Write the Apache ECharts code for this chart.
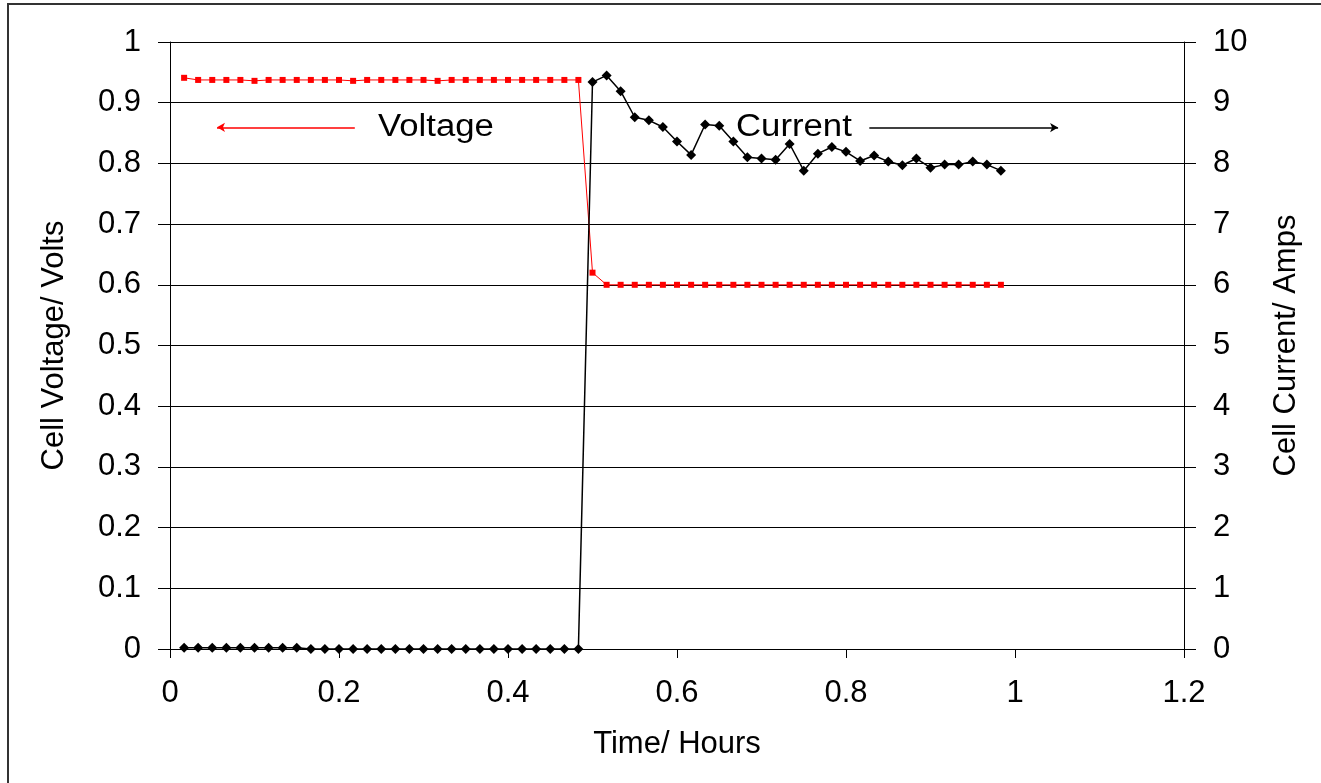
<!DOCTYPE html>
<html>
<head>
<meta charset="utf-8">
<script src="https://cdn.jsdelivr.net/npm/echarts@6/dist/echarts.min.js"></script>
<style>
html,body{margin:0;padding:0;background:#fff;}
#chart{width:1321px;height:783px;}
</style>
</head>
<body>
<div id="chart"></div>
<script>
// Time in hours (one reading per minute)
var timeHours = [
  0.0167, 0.0333, 0.0500, 0.0667, 0.0833, 0.1000, 0.1167, 0.1333, 0.1500, 0.1667,
  0.1833, 0.2000, 0.2167, 0.2333, 0.2500, 0.2667, 0.2833, 0.3000, 0.3167, 0.3333,
  0.3500, 0.3667, 0.3833, 0.4000, 0.4167, 0.4333, 0.4500, 0.4667, 0.4833, 0.5000,
  0.5167, 0.5333, 0.5500, 0.5667, 0.5833, 0.6000, 0.6167, 0.6333, 0.6500, 0.6667,
  0.6833, 0.7000, 0.7167, 0.7333, 0.7500, 0.7667, 0.7833, 0.8000, 0.8167, 0.8333,
  0.8500, 0.8667, 0.8833, 0.9000, 0.9167, 0.9333, 0.9500, 0.9667, 0.9833
];
// Cell voltage (V)
var voltage = [
  0.941, 0.9375, 0.9375, 0.9375, 0.9375, 0.936, 0.9375, 0.9375, 0.9375, 0.9375,
  0.9375, 0.9375, 0.936, 0.9375, 0.9375, 0.9375, 0.9375, 0.9375, 0.936, 0.9375,
  0.9375, 0.9375, 0.9375, 0.9375, 0.9375, 0.9375, 0.9375, 0.9375, 0.9375, 0.62,
  0.6, 0.6, 0.6, 0.6, 0.6, 0.6, 0.6, 0.6, 0.6, 0.6,
  0.6, 0.6, 0.6, 0.6, 0.6, 0.6, 0.6, 0.6, 0.6, 0.6,
  0.6, 0.6, 0.6, 0.6, 0.6, 0.6, 0.6, 0.6, 0.6
];
// Cell current (A)
var current = [
  0.02, 0.02, 0.02, 0.02, 0.02, 0.02, 0.02, 0.02, 0.02, 0,
  0, 0, 0, 0, 0, 0, 0, 0, 0, 0,
  0, 0, 0, 0, 0, 0, 0, 0, 0, 9.34,
  9.45, 9.19, 8.76, 8.71, 8.60, 8.36, 8.14, 8.64, 8.62, 8.36,
  8.10, 8.08, 8.06, 8.32, 7.88, 8.16, 8.27, 8.19, 8.04, 8.13,
  8.03, 7.97, 8.08, 7.93, 7.98, 7.98, 8.03, 7.98, 7.88
];
// Annotation arrows (data coordinates)
var voltageArrow = { x: [0.2187, 0.0556], y: 0.8594 };
var currentArrow = { x: [0.8276, 1.051], y: 8.59 };

var FONT = '"Liberation Sans", Arial, sans-serif';
var FS = 31;

function pairs(xs, ys) {
  var out = [];
  for (var i = 0; i < xs.length; i++) out.push([xs[i], ys[i]]);
  return out;
}

var chart = echarts.init(document.getElementById('chart'), null, {renderer: 'canvas'});

var axisText = {color: '#000', fontFamily: FONT, fontSize: FS};

chart.setOption({
  animation: false,
  backgroundColor: '#fff',
  grid: {left: 170, right: 137, top: 42, bottom: 134, containLabel: false},
  xAxis: {
    type: 'value', min: 0, max: 1.2, interval: 0.2,
    name: 'Time/ Hours', nameLocation: 'middle', nameGap: 80,
    nameTextStyle: axisText,
    axisLine: {show: true, onZero: false, lineStyle: {color: '#000', width: 1}},
    axisTick: {show: true, inside: false, length: 9, lineStyle: {color: '#000'}},
    axisLabel: {color: '#000', fontFamily: FONT, fontSize: FS, margin: 29},
    splitLine: {show: false}
  },
  yAxis: [
    {
      type: 'value', min: 0, max: 1, interval: 0.1, position: 'left',
      name: 'Cell Voltage/ Volts', nameLocation: 'middle', nameGap: 100, nameRotate: 90,
      nameTextStyle: axisText,
      axisLine: {show: true, lineStyle: {color: '#000', width: 1}},
      axisTick: {show: true, inside: false, length: 12, lineStyle: {color: '#000'}},
      axisLabel: {color: '#000', fontFamily: FONT, fontSize: FS, margin: 29},
      splitLine: {show: true, lineStyle: {color: '#000', width: 1}}
    },
    {
      type: 'value', min: 0, max: 10, interval: 1, position: 'right',
      name: 'Cell Current/ Amps', nameLocation: 'middle', nameGap: 87, nameRotate: 90,
      nameTextStyle: axisText,
      axisLine: {show: true, lineStyle: {color: '#000', width: 1}},
      axisTick: {show: true, inside: false, length: 12, lineStyle: {color: '#000'}},
      axisLabel: {color: '#000', fontFamily: FONT, fontSize: FS, margin: 29},
      splitLine: {show: false}
    }
  ],
  series: [
    {
      name: 'Voltage', type: 'line', yAxisIndex: 0,
      data: pairs(timeHours, voltage),
      symbol: 'rect', symbolSize: 6, showSymbol: true,
      lineStyle: {color: '#ff0000', width: 1},
      itemStyle: {color: '#ff0000'},
      z: 3,
      markLine: {
        silent: true, animation: false,
        symbol: ['none', 'arrow'], symbolSize: [7, 8],
        label: {show: false},
        lineStyle: {color: '#ff0000', width: 1.5, type: 'solid'},
        data: [[{coord: [voltageArrow.x[0], voltageArrow.y]}, {coord: [voltageArrow.x[1], voltageArrow.y]}]]
      }
    },
    {
      name: 'Current', type: 'line', yAxisIndex: 1,
      data: pairs(timeHours, current),
      symbol: 'diamond', symbolSize: 10, showSymbol: true,
      lineStyle: {color: '#000', width: 1.5},
      itemStyle: {color: '#000'},
      z: 4,
      markLine: {
        silent: true, animation: false,
        symbol: ['none', 'arrow'], symbolSize: [7, 8],
        label: {show: false},
        lineStyle: {color: '#000', width: 1.5, type: 'solid'},
        data: [[{coord: [currentArrow.x[0], currentArrow.y]}, {coord: [currentArrow.x[1], currentArrow.y]}]]
      }
    }
  ],
  graphic: [
    {type: 'polyline', silent: true, z: -1,
     shape: {points: [[8, 790], [8, 4], [1330, 4]]},
     style: {fill: null, stroke: '#333', lineWidth: 2}},
    {type: 'text', x: 378, y: 127, silent: true, scaleX: 1.12,
     style: {text: 'Voltage', fill: '#000', font: FS + 'px ' + FONT, verticalAlign: 'middle', align: 'left'}},
    {type: 'text', x: 736, y: 127, silent: true, scaleX: 1.12,
     style: {text: 'Current', fill: '#000', font: FS + 'px ' + FONT, verticalAlign: 'middle', align: 'left'}}
  ]
});
</script>
</body>
</html>
